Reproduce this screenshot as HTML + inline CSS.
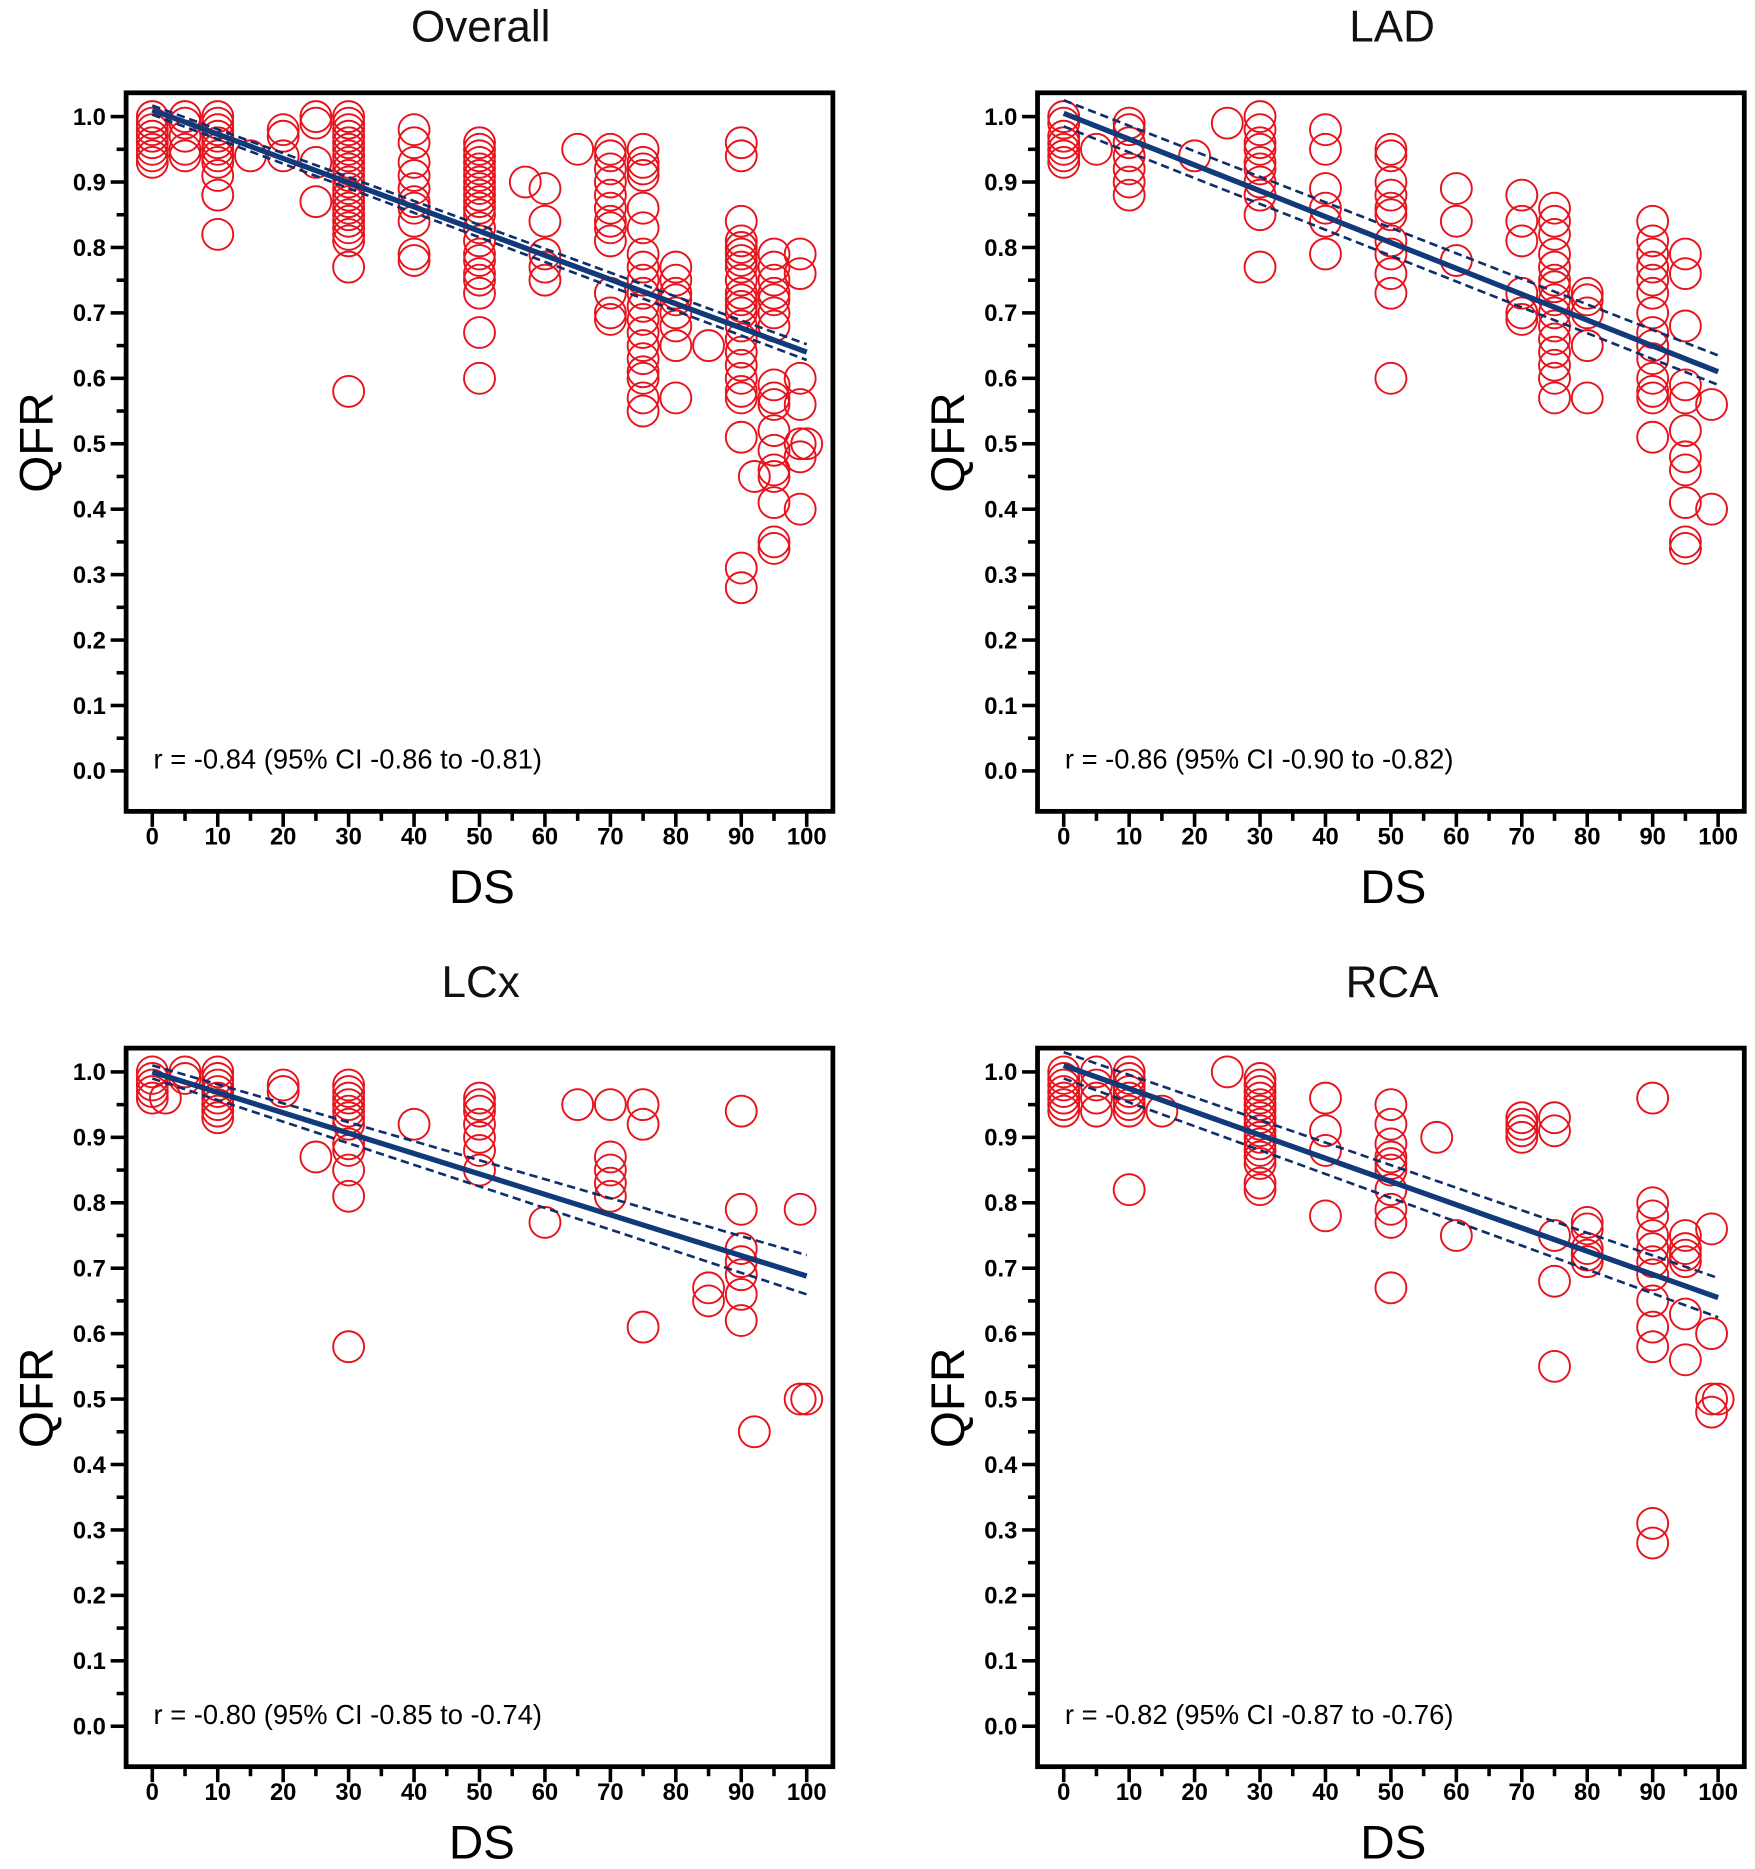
<!DOCTYPE html>
<html><head><meta charset="utf-8"><style>
html,body{margin:0;padding:0;background:#fff;}
svg{display:block;}
</style></head><body>
<svg id="fig" width="1755" height="1869" viewBox="0 0 1475 1571" preserveAspectRatio="none" xmlns="http://www.w3.org/2000/svg" font-family="Liberation Sans, Arial, sans-serif"></svg>
<script>
const panelTitles = ["Overall","LAD","LCx","RCA"];
const rTexts = ["r = -0.84 (95% CI -0.86 to -0.81)","r = -0.86 (95% CI -0.90 to -0.82)","r = -0.80 (95% CI -0.85 to -0.74)","r = -0.82 (95% CI -0.87 to -0.76)"];
const xTicks = [0,10,20,30,40,50,60,70,80,90,100];
const yTicks = [0,0.1,0.2,0.3,0.4,0.5,0.6,0.7,0.8,0.9,1.0];
const fitLines = [[1.01,0.64],[1.005,0.61],[1.0,0.688],[1.01,0.655]];
const ciUpper = [[1.017,0.652],[1.025,0.635],[1.01,0.72],[1.03,0.685]];
const ciLower = [[1.003,0.628],[0.985,0.59],[0.99,0.66],[0.99,0.625]];
const overallData = [
[0,[1.0,0.99,0.98,0.97,0.96,0.95,0.94,0.93]],[5,[1.0,0.99,0.97,0.95,0.94]],
[10,[1.0,0.99,0.98,0.97,0.96,0.95,0.94,0.93,0.91,0.88,0.82]],[15,[0.94]],[20,[0.98,0.97,0.94]],
[25,[1.0,0.99,0.93,0.87]],
[30,[1.0,0.99,0.98,0.97,0.96,0.95,0.94,0.93,0.92,0.91,0.90,0.89,0.88,0.87,0.86,0.85,0.84,0.83,0.82,0.81,0.77,0.58]],
[40,[0.98,0.96,0.93,0.91,0.89,0.87,0.86,0.84,0.79,0.78]],
[50,[0.96,0.95,0.94,0.93,0.92,0.91,0.90,0.89,0.88,0.87,0.86,0.85,0.83,0.81,0.79,0.78,0.76,0.75,0.73,0.67,0.60]],
[57,[0.90]],[60,[0.89,0.84,0.79,0.77,0.75]],[65,[0.95]],
[70,[0.95,0.94,0.92,0.90,0.88,0.86,0.84,0.83,0.81,0.73,0.70,0.69]],
[75,[0.95,0.93,0.92,0.91,0.86,0.83,0.79,0.77,0.75,0.73,0.71,0.69,0.67,0.65,0.63,0.61,0.60,0.57,0.55]],
[80,[0.77,0.75,0.73,0.72,0.70,0.68,0.65,0.57]],[85,[0.65]],
[90,[0.96,0.94,0.84,0.81,0.80,0.79,0.78,0.77,0.75,0.73,0.72,0.71,0.70,0.68,0.66,0.64,0.62,0.60,0.58,0.57,0.51,0.31,0.28]],
[92,[0.45]],
[95,[0.79,0.77,0.75,0.73,0.72,0.70,0.68,0.59,0.57,0.56,0.52,0.49,0.46,0.45,0.41,0.35,0.34]],
[99,[0.79,0.76,0.60,0.56,0.50,0.48,0.40]],[100,[0.50]]];
const ladData = [
[0,[1.0,0.99,0.97,0.96,0.95,0.94,0.93]],[5,[0.95]],[10,[0.99,0.98,0.96,0.94,0.92,0.90,0.88]],
[20,[0.94]],[25,[0.99]],[30,[1.0,0.98,0.96,0.95,0.93,0.92,0.90,0.88,0.85,0.77]],
[40,[0.98,0.95,0.89,0.86,0.84,0.79]],[50,[0.95,0.94,0.90,0.88,0.86,0.85,0.81,0.79,0.76,0.73,0.60]],
[60,[0.89,0.84,0.78]],[70,[0.88,0.84,0.81,0.73,0.70,0.69]],
[75,[0.86,0.84,0.82,0.79,0.77,0.75,0.74,0.72,0.70,0.68,0.66,0.64,0.62,0.60,0.57]],
[80,[0.73,0.72,0.70,0.65,0.57]],
[90,[0.84,0.81,0.79,0.77,0.75,0.73,0.70,0.67,0.65,0.63,0.60,0.58,0.57,0.51]],
[95,[0.79,0.76,0.68,0.59,0.57,0.52,0.48,0.46,0.41,0.35,0.34]],[99,[0.56,0.40]]];
const lcxData = [
[0,[1.0,0.99,0.98,0.97,0.96]],[2,[0.96]],[5,[1.0,0.99]],[10,[1.0,0.99,0.98,0.97,0.96,0.95,0.94,0.93]],
[20,[0.98,0.97]],[25,[0.87]],[30,[0.98,0.97,0.96,0.95,0.94,0.93,0.92,0.89,0.88,0.85,0.81,0.58]],
[40,[0.92]],[50,[0.96,0.95,0.94,0.92,0.90,0.88,0.85]],[60,[0.77]],[65,[0.95]],
[70,[0.95,0.87,0.85,0.83,0.81]],[75,[0.95,0.92,0.61]],[85,[0.67,0.65]],
[90,[0.94,0.79,0.73,0.71,0.69,0.66,0.62]],[92,[0.45]],[99,[0.79,0.50]],[100,[0.50]]];
const rcaData = [
[0,[1.0,0.99,0.98,0.97,0.96,0.95,0.94]],[5,[1.0,0.98,0.96,0.94]],[10,[1.0,0.99,0.98,0.97,0.96,0.95,0.94,0.82]],
[15,[0.94]],[25,[1.0]],[30,[0.99,0.98,0.97,0.96,0.95,0.94,0.93,0.92,0.91,0.90,0.89,0.88,0.87,0.86,0.83,0.82]],
[40,[0.96,0.91,0.88,0.78]],[50,[0.95,0.92,0.89,0.87,0.86,0.85,0.82,0.79,0.77,0.67]],[57,[0.90]],[60,[0.75]],
[70,[0.93,0.92,0.91,0.90]],[75,[0.93,0.91,0.75,0.68,0.55]],[80,[0.77,0.76,0.73,0.72,0.71]],
[90,[0.96,0.80,0.78,0.75,0.73,0.71,0.69,0.65,0.61,0.58,0.31,0.28]],
[95,[0.75,0.73,0.72,0.71,0.63,0.56]],[99,[0.76,0.60,0.50,0.48]],[100,[0.50]]];
const allData = [overallData, ladData, lcxData, rcaData];

const NS = "http://www.w3.org/2000/svg";
const svg = document.getElementById('fig');
function mk(tag, attrs, parent){ const e=document.createElementNS(NS,tag); for(const k in attrs) e.setAttribute(k,attrs[k]); parent.appendChild(e); return e; }
const offsets = [[0,0],[766,0],[0,803],[766,803]];
const names = ["overall","lad","lcx","rca"];
for(let p=0;p<4;p++){
  const [ox,oy]=offsets[p];
  const g = mk('g',{},svg);
  
  
  const X = v => ox+128+v*5.5;
  const Y = v => oy+648-v*550;
  const t = mk('text',{x:ox+404,y:oy+35,'font-size':37,'text-anchor':'middle',fill:'#111'},g); t.textContent=panelTitles[p];
  
  
  const frame = mk('rect',{x:ox+106,y:oy+78,width:594,height:604,fill:'none',stroke:'#000','stroke-width':4},g);
  
  
  for(let i=0;i<=20;i++){ const v=i*0.05; const major=i%2===0; mk('line',{x1:ox+106-(major?13:8),x2:ox+106,y1:Y(v),y2:Y(v),stroke:'#000','stroke-width':3},g); }
  yTicks.forEach(v=>{ const tl=mk('text',{x:ox+89,y:Y(v)+7,'font-size':20,'font-weight':'bold','text-anchor':'end'},g); tl.textContent=v.toFixed(1);
      });
  for(let i=0;i<=20;i++){ const v=i*5; const major=i%2===0; mk('line',{x1:X(v),x2:X(v),y1:oy+682,y2:oy+682+(major?13:8),stroke:'#000','stroke-width':3},g); }
  xTicks.forEach(v=>{ const tl=mk('text',{x:X(v),y:oy+710,'font-size':20,'font-weight':'bold','text-anchor':'middle'},g); tl.textContent=v;
      });
  const yl = mk('text',{x:0,y:0,'font-size':40,'text-anchor':'middle',transform:`translate(${ox+44},${oy+372}) rotate(-90)`},g); yl.textContent='QFR';
   
  const xl = mk('text',{x:ox+405,y:oy+759,'font-size':40,'text-anchor':'middle'},g); xl.textContent='DS';
   
  const rt = mk('text',{x:ox+129,y:oy+646,'font-size':23},g); rt.textContent=rTexts[p];
   
  allData[p].forEach(([dx,ys])=>{ ys.forEach(v=>{ const c=mk('circle',{cx:X(dx),cy:Y(v),r:13,fill:'none',stroke:'#e8121c','stroke-width':1.6},g);
      }); });
  const ub=ciUpper[p], lb=ciLower[p], f=fitLines[p];
  const cu=mk('line',{x1:X(0),y1:Y(ub[0]),x2:X(100),y2:Y(ub[1]),stroke:'#0e2f6b','stroke-width':2.2,'stroke-dasharray':'7,4'},g);
   
  const cl=mk('line',{x1:X(0),y1:Y(lb[0]),x2:X(100),y2:Y(lb[1]),stroke:'#0e2f6b','stroke-width':2.2,'stroke-dasharray':'7,4'},g);
   
  const fl=mk('line',{x1:X(0),y1:Y(f[0]),x2:X(100),y2:Y(f[1]),stroke:'#113a7a','stroke-width':4.5},g);
   
}
</script>
</body></html>
